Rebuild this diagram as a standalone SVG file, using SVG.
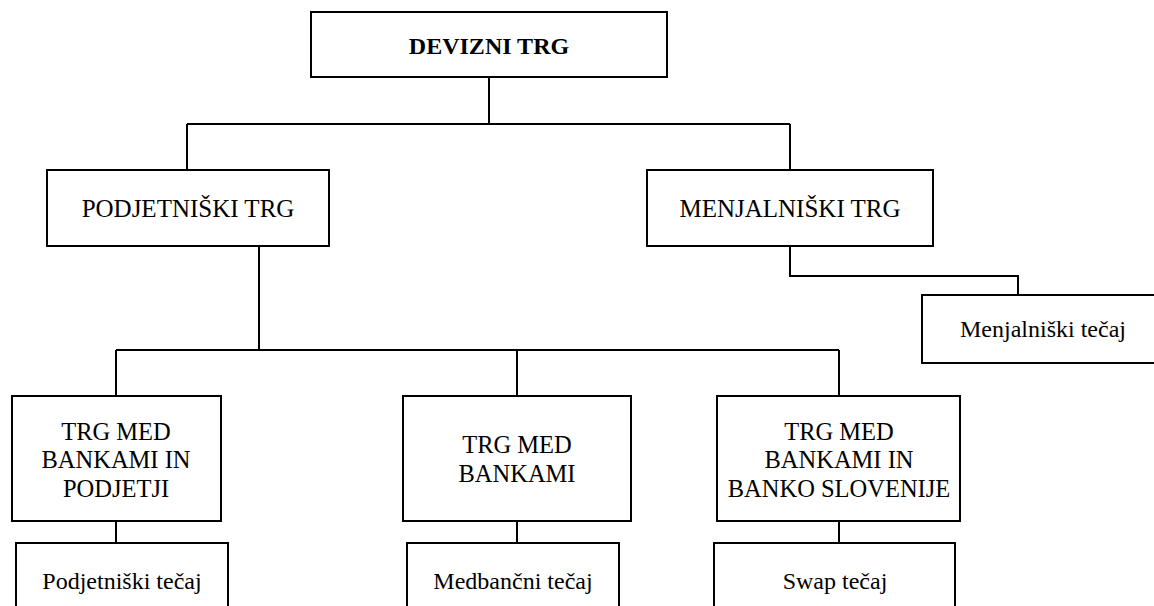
<svg xmlns="http://www.w3.org/2000/svg" width="1154" height="606" viewBox="0 0 1154 606">
<style>
.box{fill:#fff;stroke:#000;stroke-width:2}
.ln{fill:none;stroke:#000;stroke-width:2}
text{font-family:"Liberation Serif","Times New Roman",serif;fill:#000;text-anchor:middle}
.b{font-weight:bold;font-size:24px}
.t2{font-size:25px}
.t3{font-size:24.5px}
.t4{font-size:24px}
</style>
<rect width="1154" height="606" fill="#fff"/>
<g id="connectors">
<path class="ln" d="M489 77V124M187 124H790M187 124V170M790 124V170"/>
<path class="ln" d="M259 246V350M116 350H839M116 350V396M517 350V396M839 350V396"/>
<path class="ln" d="M790 246V276H1018V295"/>
<path class="ln" d="M116 521V543M517 521V543M839 521V543"/>
</g>
<g id="devizni-trg">
<rect class="box" x="311" y="12" width="356" height="65"/>
<text class="b" x="489" y="54">DEVIZNI TRG</text>
</g>
<g id="podjetniski-trg">
<rect class="box" x="47" y="170" width="282" height="76"/>
<text class="t2" x="188" y="217">PODJETNIŠKI TRG</text>
</g>
<g id="menjalniski-trg">
<rect class="box" x="647" y="170" width="286" height="76"/>
<text class="t2" x="790" y="217">MENJALNIŠKI TRG</text>
</g>
<g id="menjalniski-tecaj">
<rect class="box" x="922" y="295" width="244" height="68"/>
<text class="t4" x="1043" y="337">Menjalniški tečaj</text>
</g>
<g id="trg-banke-podjetja">
<rect class="box" x="12" y="396" width="209" height="125"/>
<text class="t3" x="116" y="440">TRG MED</text>
<text class="t3" x="116" y="468">BANKAMI IN</text>
<text class="t3" x="116" y="497">PODJETJI</text>
</g>
<g id="trg-med-bankami">
<rect class="box" x="403" y="396" width="228" height="125"/>
<text class="t3" x="517" y="453">TRG MED</text>
<text class="t3" x="517" y="482">BANKAMI</text>
</g>
<g id="trg-banke-bs">
<rect class="box" x="717" y="396" width="243" height="125"/>
<text class="t3" x="839" y="440">TRG MED</text>
<text class="t3" x="839" y="468">BANKAMI IN</text>
<text class="t3" x="839" y="497">BANKO SLOVENIJE</text>
</g>
<g id="podjetniski-tecaj">
<rect class="box" x="16" y="543" width="212" height="80"/>
<text class="t4" x="122" y="589">Podjetniški tečaj</text>
</g>
<g id="medbancni-tecaj">
<rect class="box" x="407" y="543" width="212" height="80"/>
<text class="t4" x="513" y="589">Medbančni tečaj</text>
</g>
<g id="swap-tecaj">
<rect class="box" x="714" y="543" width="241" height="80"/>
<text class="t4" x="835" y="589">Swap tečaj</text>
</g>
</svg>
